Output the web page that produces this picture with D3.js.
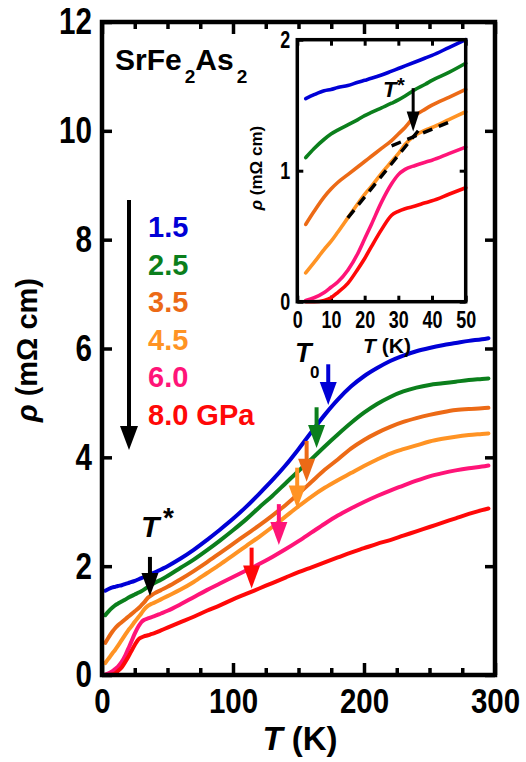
<!DOCTYPE html>
<html><head><meta charset="utf-8">
<script src="https://cdn.jsdelivr.net/npm/d3@7"></script>
<style>
body{margin:0;background:#fff}
svg{display:block}
text{font-family:"Liberation Sans",Arial,Helvetica,sans-serif;font-weight:bold}
</style>
</head><body>
<svg id="c" width="526" height="762"></svg>
<script>
// ---------------- data ----------------
const temps = [2.5,5,8,10,12,15,18,20,22,25,28,30,32,35,38,40,45,50,
  60,70,80,90,100,110,120,130,140,150,160,170,180,190,200,210,220,230,240,250,260,270,280,290,295];
const rho15 = [1.55,1.58,1.61,1.62,1.635,1.65,1.675,1.69,1.705,1.73,1.76,1.78,1.80,1.83,1.86,1.88,1.94,2.00,
  2.14,2.30,2.48,2.67,2.87,3.09,3.33,3.58,3.85,4.15,4.47,4.78,5.06,5.30,5.49,5.64,5.77,5.87,5.95,6.01,6.06,6.10,6.14,6.17,6.19];
const rho25 = [1.10,1.17,1.24,1.28,1.31,1.35,1.39,1.42,1.445,1.48,1.515,1.54,1.57,1.62,1.66,1.69,1.75,1.82,
  1.97,2.12,2.29,2.47,2.66,2.86,3.08,3.29,3.52,3.75,3.97,4.20,4.42,4.63,4.82,4.98,5.11,5.21,5.28,5.33,5.36,5.39,5.42,5.44,5.45];
const rho35 = [0.59,0.69,0.80,0.86,0.91,0.97,1.03,1.07,1.11,1.17,1.23,1.28,1.33,1.42,1.47,1.50,1.56,1.62,
  1.76,1.91,2.07,2.24,2.41,2.58,2.75,2.93,3.12,3.33,3.55,3.77,3.96,4.16,4.32,4.45,4.56,4.65,4.72,4.78,4.83,4.87,4.89,4.90,4.91];
const rho45 = [0.22,0.30,0.40,0.46,0.53,0.64,0.75,0.82,0.88,0.98,1.07,1.13,1.20,1.27,1.31,1.33,1.39,1.45,
  1.57,1.71,1.87,2.03,2.20,2.37,2.54,2.72,2.91,3.10,3.28,3.44,3.58,3.71,3.84,3.96,4.07,4.15,4.22,4.29,4.34,4.38,4.41,4.43,4.44];
const rho60 = [0.01,0.03,0.07,0.11,0.15,0.24,0.37,0.48,0.59,0.76,0.90,0.97,1.01,1.04,1.065,1.08,1.13,1.18,
  1.30,1.43,1.56,1.68,1.80,1.92,2.04,2.17,2.31,2.46,2.62,2.78,2.93,3.06,3.18,3.29,3.39,3.48,3.57,3.65,3.71,3.76,3.80,3.83,3.85];
const rho80 = [0.0,0.0,0.01,0.03,0.07,0.14,0.25,0.33,0.42,0.55,0.66,0.69,0.71,0.73,0.755,0.77,0.82,0.87,
  0.97,1.07,1.18,1.28,1.39,1.49,1.59,1.69,1.79,1.89,1.98,2.07,2.16,2.25,2.33,2.41,2.48,2.56,2.64,2.72,2.80,2.88,2.96,3.03,3.06];
const pressures = ["1.5","2.5","3.5","4.5","6.0","8.0 GPa"];
const colors = ["#0000d6","#0b7f1c","#ec6a16","#ff9324","#ff1478","#ff0808"];
const t0Temps = [172.7,163.8,156.2,149.0,135.0,114.2];
const t0Tips  = [4.96,4.17,3.55,3.06,2.39,1.59];
const tStarMain = [36.6,1.45];
const tStarInset = [34.4,1.30];
const dashLow  = [[15,0.64],[37,1.34]];
const dashHigh = [[28,1.19],[45.5,1.375]];
const yTicks = [0,2,4,6,8,10,12];
const xTicks = [0,100,200,300];
const xMinor = [25,50,75,125,150,175,225,250,275];
const insetXTicks = [0,10,20,30,40,50];
const insetYTicks = [0,1,2];

const series = [rho15,rho25,rho35,rho45,rho60,rho80].map((r,i)=>({
  p: pressures[i], color: colors[i], pts: temps.map((t,j)=>[t,r[j]])
}));

// ---------------- drawing ----------------
const svg = d3.select("#c");
svg.append("rect").attr("width",526).attr("height",762).attr("fill","#fff");

const x = d3.scaleLinear([0,300],[102,495]);
const y = d3.scaleLinear([0,12],[675,22]);

// condensed bold tick numbers (horizontal squeeze)
function styleAxis(g, fs, sx){
  g.select(".domain").remove();
  g.selectAll(".tick line").attr("stroke","#000").attr("stroke-width",3.5);
  g.selectAll(".tick text").attr("fill","#000").attr("font-size",fs)
    .attr("font-family","'Liberation Sans',Arial,sans-serif").attr("font-weight","bold")
    .each(function(){
      const t = d3.select(this);
      const x0 = +t.attr("x") || 0;
      t.attr("x", x0/sx).attr("transform",`scale(${sx},1)`);
    });
}
const fmt = d3.format("d");
styleAxis(svg.append("g").attr("transform","translate(0,675)")
  .call(d3.axisBottom(x).tickValues(xTicks).tickSize(-12).tickPadding(12).tickFormat(fmt)),36,0.82);
styleAxis(svg.append("g").attr("transform","translate(0,675)")
  .call(d3.axisBottom(x).tickValues(xMinor).tickSize(-7).tickFormat("")),36,0.82);
styleAxis(svg.append("g").attr("transform","translate(0,22)")
  .call(d3.axisTop(x).tickValues(xTicks).tickSize(-12).tickFormat("")),36,0.82);
styleAxis(svg.append("g").attr("transform","translate(0,22)")
  .call(d3.axisTop(x).tickValues(xMinor).tickSize(-7).tickFormat("")),36,0.82);
styleAxis(svg.append("g").attr("transform","translate(102,0)")
  .call(d3.axisLeft(y).tickValues(yTicks).tickSize(-10).tickPadding(10).tickFormat(fmt)),37,0.8);
styleAxis(svg.append("g").attr("transform","translate(495,0)")
  .call(d3.axisRight(y).tickValues(yTicks).tickSize(-10).tickFormat("")),37,0.8);

const line = d3.line().x(d=>x(d[0])).y(d=>y(d[1])).curve(d3.curveMonotoneX);
svg.append("g").selectAll("path").data(series).join("path")
  .attr("d",d=>line(d.pts)).attr("fill","none").attr("stroke",d=>d.color)
  .attr("stroke-width",4).attr("stroke-linecap","round");

function arrow(g, xp, y0, y1, color, shaftW, headW, headL){
  g.append("line").attr("x1",xp).attr("x2",xp).attr("y1",y0).attr("y2",y1-headL+2)
    .attr("stroke",color).attr("stroke-width",shaftW);
  g.append("path").attr("d",`M${xp-headW/2},${y1-headL}L${xp+headW/2},${y1-headL}L${xp},${y1}Z`).attr("fill",color);
}
const ag = svg.append("g");
t0Temps.forEach((t,i)=>arrow(ag, x(t), y(t0Tips[i]+0.75), y(t0Tips[i]), colors[i], 4, 17, 23));
arrow(ag, x(tStarMain[0]), y(tStarMain[1]+0.72), y(tStarMain[1]), "#000", 4, 17, 23);

// frame
svg.append("rect").attr("x",102).attr("y",22).attr("width",393).attr("height",653)
  .attr("fill","none").attr("stroke","#000").attr("stroke-width",4.5);

// labels
const sf = svg.append("text").attr("x",115).attr("y",70).attr("font-size",30).attr("fill","#000");
sf.append("tspan").text("SrFe");
sf.append("tspan").attr("font-size",19).attr("dx",3).attr("dy",13).text("2");
sf.append("tspan").attr("dy",-13).text("As");
sf.append("tspan").attr("font-size",19).attr("dx",3).attr("dy",13).text("2");

const yt = svg.append("text").attr("transform","translate(37,350) rotate(-90)")
  .attr("text-anchor","middle").attr("font-size",29).attr("fill","#000");
yt.append("tspan").attr("font-style","italic").text("ρ");
yt.append("tspan").text(" (mΩ cm)");

const xt = svg.append("text").attr("x",300).attr("y",750).attr("text-anchor","middle").attr("font-size",33).attr("fill","#000");
xt.append("tspan").attr("font-style","italic").text("T");
xt.append("tspan").text(" (K)");

svg.append("g").selectAll("text").data(series).join("text")
  .attr("x",148).attr("y",(d,i)=>237+i*37.6).attr("font-size",29)
  .attr("fill",d=>d.color).text(d=>d.p);
arrow(svg.append("g"), 129, 200, 450, "#000", 4, 18, 24);

const ts = svg.append("g");
ts.append("text").attr("x",141).attr("y",537).attr("font-size",30).attr("font-style","italic").text("T");
ts.append("text").attr("x",163).attr("y",527).attr("font-size",28).text("*");
ts.append("text").attr("x",295).attr("y",362).attr("font-size",27).attr("font-style","italic").text("T");
ts.append("text").attr("x",310).attr("y",378).attr("font-size",17).text("0");

// ---------------- inset ----------------
const ix = d3.scaleLinear([0,50],[297.3,465.7]);
const iy = d3.scaleLinear([0,2],[301.7,39.7]);
const ig = svg.append("g");
ig.append("rect").attr("x",297.3).attr("y",39.7).attr("width",168.4).attr("height",262).attr("fill","#fff");
styleAxis(ig.append("g").attr("transform","translate(0,301.7)")
  .call(d3.axisBottom(ix).tickValues(insetXTicks).tickSize(-6).tickPadding(10).tickFormat(fmt)),23,0.78);
styleAxis(ig.append("g").attr("transform","translate(0,39.7)")
  .call(d3.axisTop(ix).tickValues(insetXTicks).tickSize(-6).tickFormat("")),23,0.78);
styleAxis(ig.append("g").attr("transform","translate(297.3,0)")
  .call(d3.axisLeft(iy).tickValues(insetYTicks).tickSize(-6).tickPadding(7).tickFormat(fmt)),23,0.78);
styleAxis(ig.append("g").attr("transform","translate(465.7,0)")
  .call(d3.axisRight(iy).tickValues(insetYTicks).tickSize(-6).tickFormat("")),23,0.78);
ig.selectAll(".tick line").attr("stroke-width",3);

const iline = d3.line().x(d=>ix(d[0])).y(d=>iy(d[1])).curve(d3.curveMonotoneX);
ig.append("g").selectAll("path").data(series).join("path")
  .attr("d",d=>iline(d.pts.filter(p=>p[0]<=50))).attr("fill","none").attr("stroke",d=>d.color)
  .attr("stroke-width",3.6).attr("stroke-linecap","round");
ig.append("g").selectAll("path").data([dashLow,dashHigh]).join("path")
  .attr("d",d=>d3.line().x(p=>ix(p[0])).y(p=>iy(p[1]))(d))
  .attr("fill","none").attr("stroke","#000").attr("stroke-width",3.4).attr("stroke-dasharray","10,7");
arrow(ig, ix(tStarInset[0]), iy(tStarInset[1]+0.33), iy(tStarInset[1]), "#000", 3, 13, 20);
ig.append("rect").attr("x",297.3).attr("y",39.7).attr("width",168.4).attr("height",262)
  .attr("fill","none").attr("stroke","#000").attr("stroke-width",3.5);
ig.append("text").attr("x",383).attr("y",97).attr("font-size",22).attr("font-style","italic").text("T");
ig.append("text").attr("x",397).attr("y",92).attr("font-size",20).text("*");
const ixt = ig.append("text").attr("x",387).attr("y",353).attr("text-anchor","middle").attr("font-size",21);
ixt.append("tspan").attr("font-style","italic").text("T");
ixt.append("tspan").text(" (K)");
const iyt = ig.append("text").attr("transform","translate(262,168) rotate(-90)").attr("text-anchor","middle").attr("font-size",17);
iyt.append("tspan").attr("font-style","italic").text("ρ");
iyt.append("tspan").text(" (mΩ cm)");
</script>
</body></html>
